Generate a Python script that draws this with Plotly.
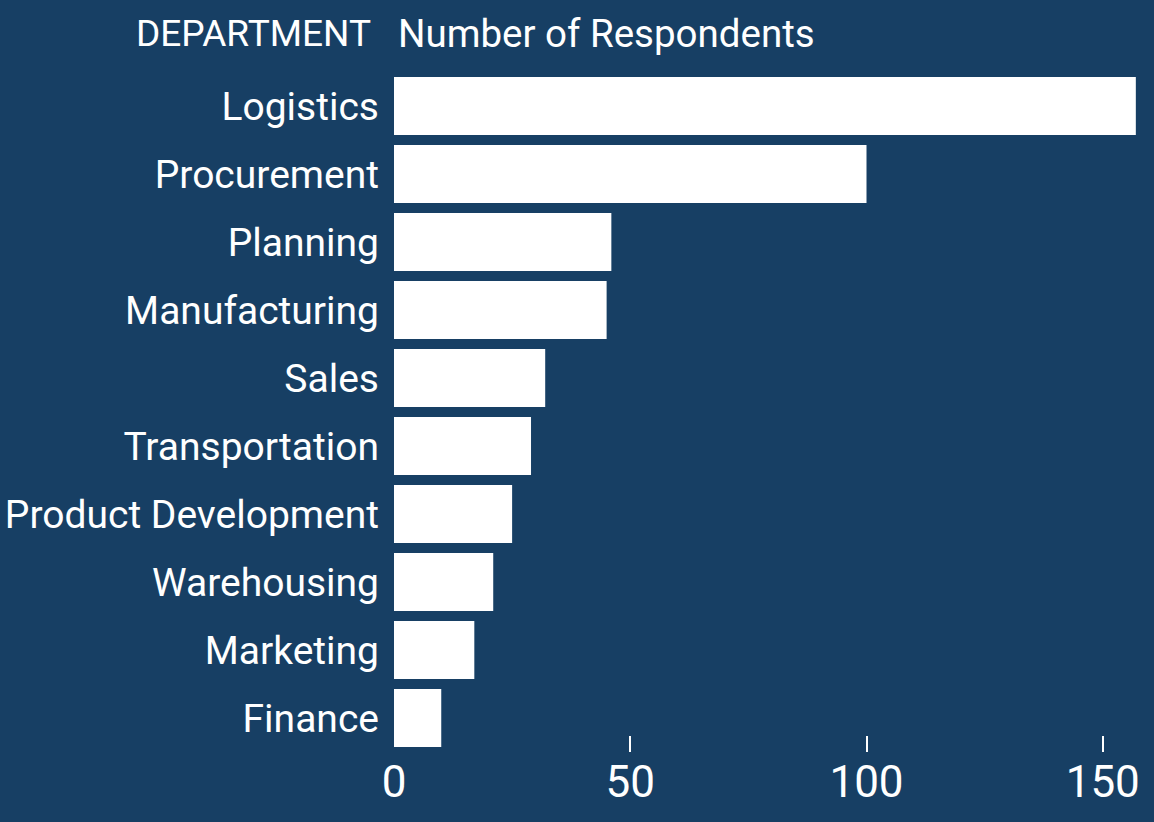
import plotly.graph_objects as go

departments = ["Logistics", "Procurement", "Planning", "Manufacturing", "Sales",
               "Transportation", "Product Development", "Warehousing", "Marketing", "Finance"]
respondents = [157, 100, 46, 45, 32, 29, 25, 21, 17, 10]
x_ticks = [0, 50, 100, 150]

bg = "#173F64"
font_family = "Roboto"

fig = go.Figure(go.Bar(
    x=respondents,
    y=departments,
    orientation="h",
    marker=dict(color="white", line=dict(width=0)),
    hoverinfo="x+y",
))

fig.update_layout(
    width=1154, height=822,
    paper_bgcolor=bg, plot_bgcolor=bg,
    margin=dict(l=394, r=4, t=72, b=70),
    bargap=0.15,
    showlegend=False,
    font=dict(family=font_family, color="white", size=39),
)

fig.update_yaxes(
    autorange="reversed",
    showgrid=False, zeroline=False, showline=False,
    ticks="", ticklabelstandoff=14,
    tickfont=dict(size=39, color="white", family=font_family),
)

fig.update_xaxes(
    range=[0, 160],
    tickvals=x_ticks,
    ticks="inside", ticklen=16, tickwidth=2, tickcolor="white",
    showgrid=False, zeroline=False, showline=False,
    layer="below traces",
    tickfont=dict(size=44, color="white", family=font_family),
    ticklabelstandoff=0,
)

fig.add_annotation(
    text="DEPARTMENT", xref="paper", yref="paper",
    x=0, y=1, xshift=-21, yshift=39, xanchor="right", yanchor="middle",
    showarrow=False, font=dict(size=37, color="white", family=font_family),
)
fig.add_annotation(
    text="Number of Respondents", xref="paper", yref="paper",
    x=0, y=1, xshift=2, yshift=39, xanchor="left", yanchor="middle",
    showarrow=False, font=dict(size=38.5, color="white", family=font_family),
)

fig.write_html("out.html")
